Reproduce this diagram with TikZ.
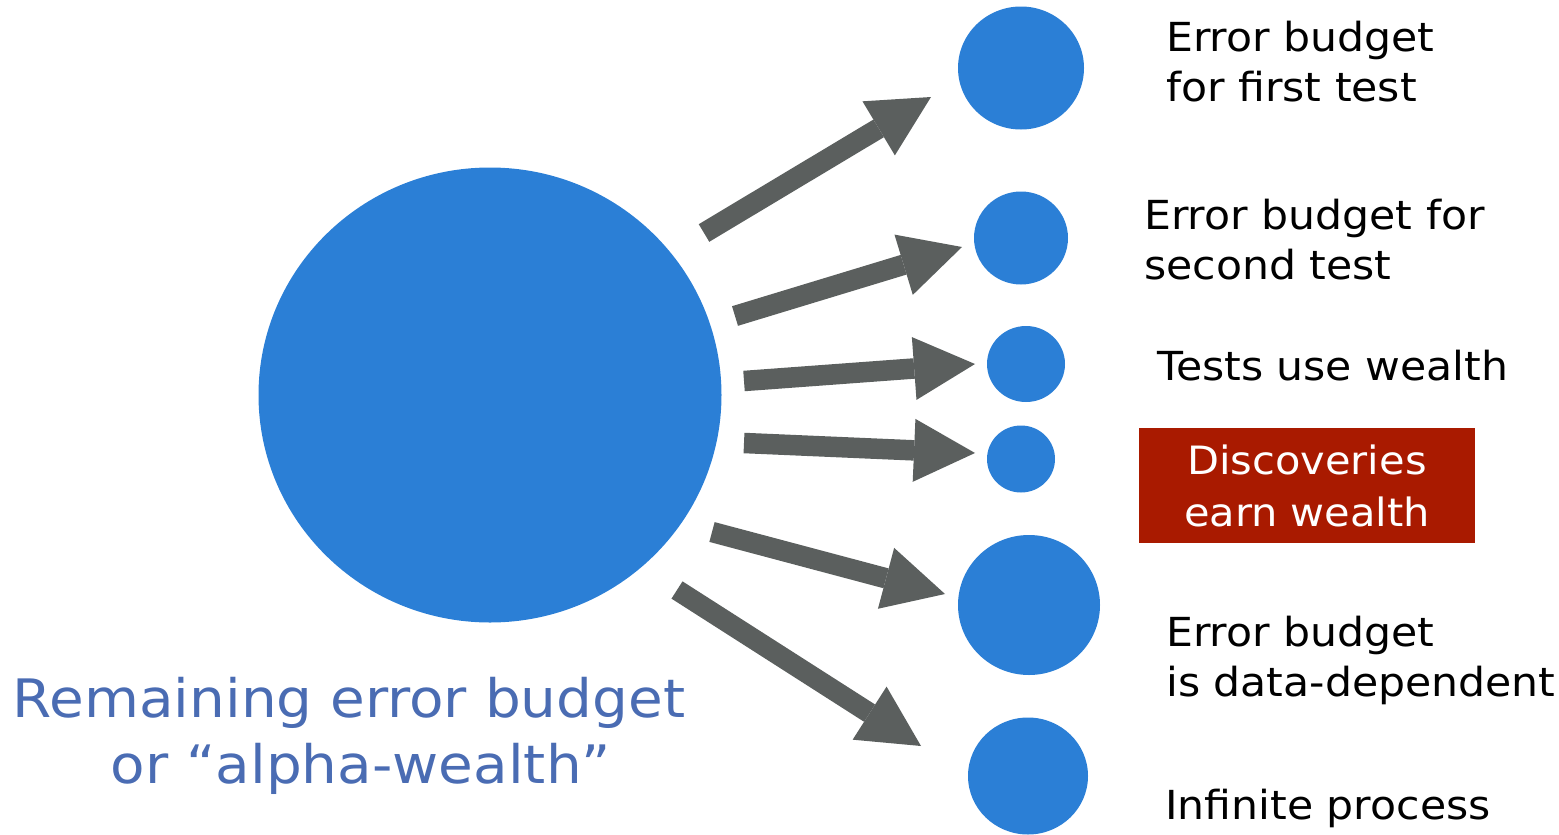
\documentclass[tikz,border=0pt]{standalone}
\usepackage{fontspec}
\setmainfont[FakeStretch=1.065]{DejaVu Sans}
\usetikzlibrary{arrows.meta}
\definecolor{dotblue}{RGB}{43,127,214}
\definecolor{arrowgray}{RGB}{91,95,94}
\definecolor{boxred}{RGB}{169,26,0}
\definecolor{labelblue}{RGB}{74,108,179}
\tikzset{
  blockarrow/.style={draw=arrowgray, line width=20.5pt,
    -{Triangle[length=61pt,width=63pt,line width=0pt,color=arrowgray,fill=arrowgray]}},
  rlabel/.style={anchor=south west, inner sep=0pt, text depth=0pt, align=left,
    font=\fontsize{40}{50}\selectfont, text=black},
}
\begin{document}
\begin{tikzpicture}[x=1pt,y=-1pt]
\useasboundingbox (0,0) rectangle (1559,835);
% circles
\fill[dotblue] (490,395) ellipse [x radius=231.5, y radius=227.5];
\coordinate (big) at (490,395);
\fill[dotblue] (1021,68) ellipse [x radius=63, y radius=61.5];
\fill[dotblue] (1021,238) ellipse [x radius=47, y radius=46.5];
\fill[dotblue] (1026,364) ellipse [x radius=39, y radius=38];
\fill[dotblue] (1021,459) ellipse [x radius=34, y radius=33.5];
\fill[dotblue] (1029,605) ellipse [x radius=71, y radius=70];
\fill[dotblue] (1028,776) ellipse [x radius=60, y radius=58.5];
% arrow ends
\coordinate (a1) at (704,233);  \coordinate (b1) at (931,97);
\coordinate (a2) at (735,316);  \coordinate (b2) at (962,247);
\coordinate (a3) at (744,381);  \coordinate (b3) at (975,364);
\coordinate (a4) at (744,443);  \coordinate (b4) at (975,453);
\coordinate (a5) at (712,532);  \coordinate (b5) at (945,594);
\coordinate (a6) at (677,590);  \coordinate (b6) at (921,746);
\draw[blockarrow] (a1) -- (b1);
\draw[blockarrow] (a2) -- (b2);
\draw[blockarrow] (a3) -- (b3);
\draw[blockarrow] (a4) -- (b4);
\draw[blockarrow] (a5) -- (b5);
\draw[blockarrow] (a6) -- (b6);
% labels
\node[rlabel] (l1) at (1166,102) {Error budget\\for first test};
\node[rlabel] (l2) at (1144,280) {Error budget for\\second test};
\node[rlabel] (l3) at (1157,381) {Tests use wealth};
\node[fill=boxred, text=white, inner sep=0pt, minimum width=336pt, minimum height=115pt,
  align=center, font=\fontsize{39}{52}\selectfont] (l4) at (1307,485.5) {Discoveries\\earn wealth};
\node[rlabel] (l5) at (1166,697) {Error budget\\is data-dependent};
\node[rlabel] (l6) at (1165,820) {Infinite process};
\node[anchor=south, inner sep=0pt, text depth=0pt, align=center, text=labelblue,
  font=\fontsize{53}{66}\selectfont] (main) at (349,784) {Remaining error budget\\\hspace*{24pt}or “alpha-wealth”};
\end{tikzpicture}
\end{document}
